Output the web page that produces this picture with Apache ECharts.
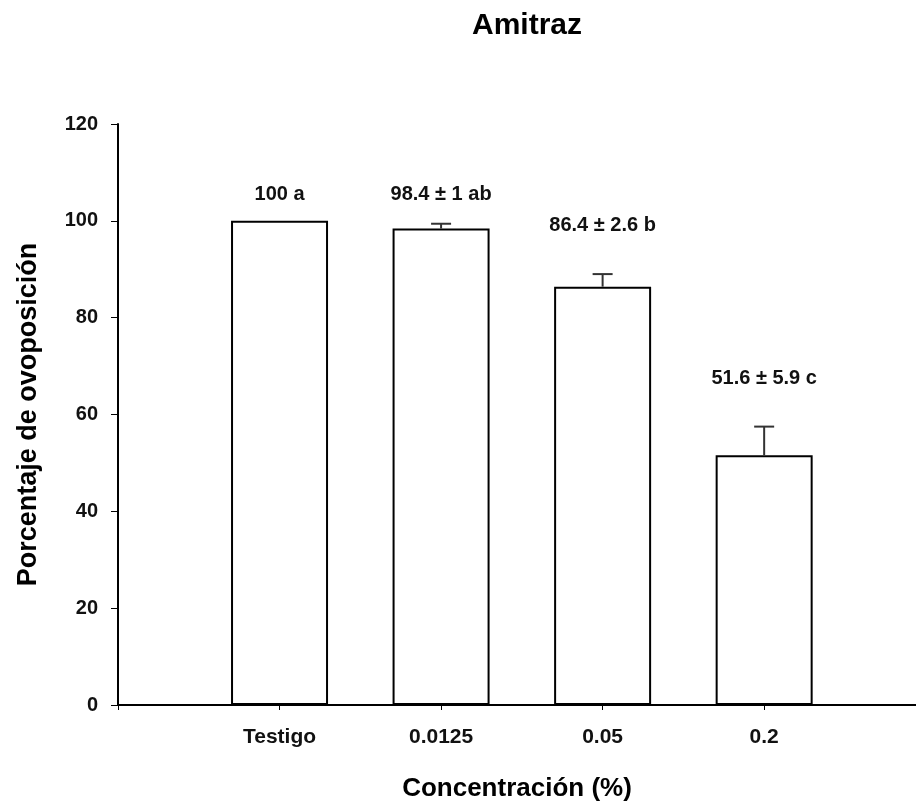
<!DOCTYPE html>
<html>
<head>
<meta charset="utf-8">
<script src="https://cdn.jsdelivr.net/npm/echarts@6/dist/echarts.min.js"></script>
<style>html,body{margin:0;padding:0;background:#fff}#c{width:916px;height:804px}</style>
</head>
<body>
<div id="c"></div>
<script>
const categories = ['Testigo', '0.0125', '0.05', '0.2'];
const means = [100, 98.4, 86.4, 51.6];
const errors = [0, 1, 2.6, 5.9];
const annotations = ['100 a', '98.4 ± 1 ab', '86.4 ± 2.6 b', '51.6 ± 5.9 c'];
const annotationY = [105.5, 105.4, 99.0, 67.5];
const yTicks = [0, 20, 40, 60, 80, 100, 120];

const FONT = "'Liberation Sans', Arial, sans-serif";
const chart = echarts.init(document.getElementById('c'), null, {renderer: 'canvas'});

const barData = means.map((v, i) => [i + 1, v]);
const errData = means.map((v, i) => [i + 1, v, errors[i]]);
const annData = annotationY.map((v, i) => [i + 1, v, annotations[i]]);

chart.setOption({
  backgroundColor: '#fff',
  animation: false,
  title: {
    text: 'Amitraz',
    left: 522, top: 6, textAlign: 'center',
    textStyle: {fontFamily: FONT, fontWeight: 'bold', fontSize: 30, color: '#000'}
  },
  grid: {left: 118, right: 0, top: 124, bottom: 99, containLabel: false, outerBoundsMode: 'none'},
  xAxis: {
    type: 'value', min: 0, max: 4.94, interval: 1,
    splitLine: {show: false},
    axisLine: {show: true, lineStyle: {color: '#000', width: 2}},
    axisTick: {show: true, length: 5, lineStyle: {color: '#000', width: 1}},
    axisLabel: {
      margin: 22, color: '#111', fontFamily: FONT, fontWeight: 'bold', fontSize: 21,
      showMaxLabel: false,
      formatter: v => (v >= 1 && v <= categories.length && Number.isInteger(v)) ? categories[v - 1] : ''
    },
    name: 'Concentración (%)', nameLocation: 'middle', nameGap: 71,
    nameTextStyle: {fontFamily: FONT, fontWeight: 'bold', fontSize: 26, color: '#000'}
  },
  yAxis: {
    type: 'value', min: 0, max: 120, interval: 20,
    splitLine: {show: false},
    axisLine: {show: true, lineStyle: {color: '#000', width: 2}},
    axisTick: {show: true, length: 7, lineStyle: {color: '#000', width: 1}},
    axisLabel: {
      margin: 20, color: '#111', fontFamily: FONT, fontWeight: 'bold', fontSize: 20,
      formatter: v => yTicks.includes(v) ? String(v) : ''
    },
    name: 'Porcentaje de ovoposición', nameLocation: 'middle', nameGap: 76,
    nameTextStyle: {fontFamily: FONT, fontWeight: 'bold', fontSize: 27, color: '#000'}
  },
  series: [
    {
      type: 'bar', data: barData, barWidth: 97,
      itemStyle: {color: '#fff', borderColor: '#000', borderWidth: 2}
    },
    {
      type: 'custom', data: errData, z: 5,
      renderItem: (params, api) => {
        const x = api.value(0), m = api.value(1), e = api.value(2);
        if (!e) return null;
        const p0 = api.coord([x, m]);
        const p1 = api.coord([x, m + e]);
        return {
          type: 'group',
          children: [
            {type: 'line', shape: {x1: p0[0], y1: p0[1], x2: p1[0], y2: p1[1]}, style: {stroke: '#333', lineWidth: 2}},
            {type: 'line', shape: {x1: p1[0] - 10, y1: p1[1], x2: p1[0] + 10, y2: p1[1]}, style: {stroke: '#333', lineWidth: 2}}
          ]
        };
      }
    },
    {
      type: 'custom', data: annData, z: 6,
      renderItem: (params, api) => {
        const p = api.coord([api.value(0), api.value(1)]);
        return {
          type: 'text', x: p[0], y: p[1],
          style: {text: annotations[params.dataIndex], fontFamily: FONT, fontWeight: 'bold', fontSize: 20,
                  fill: '#111', align: 'center', verticalAlign: 'middle'}
        };
      }
    }
  ]
});
</script>
</body>
</html>
